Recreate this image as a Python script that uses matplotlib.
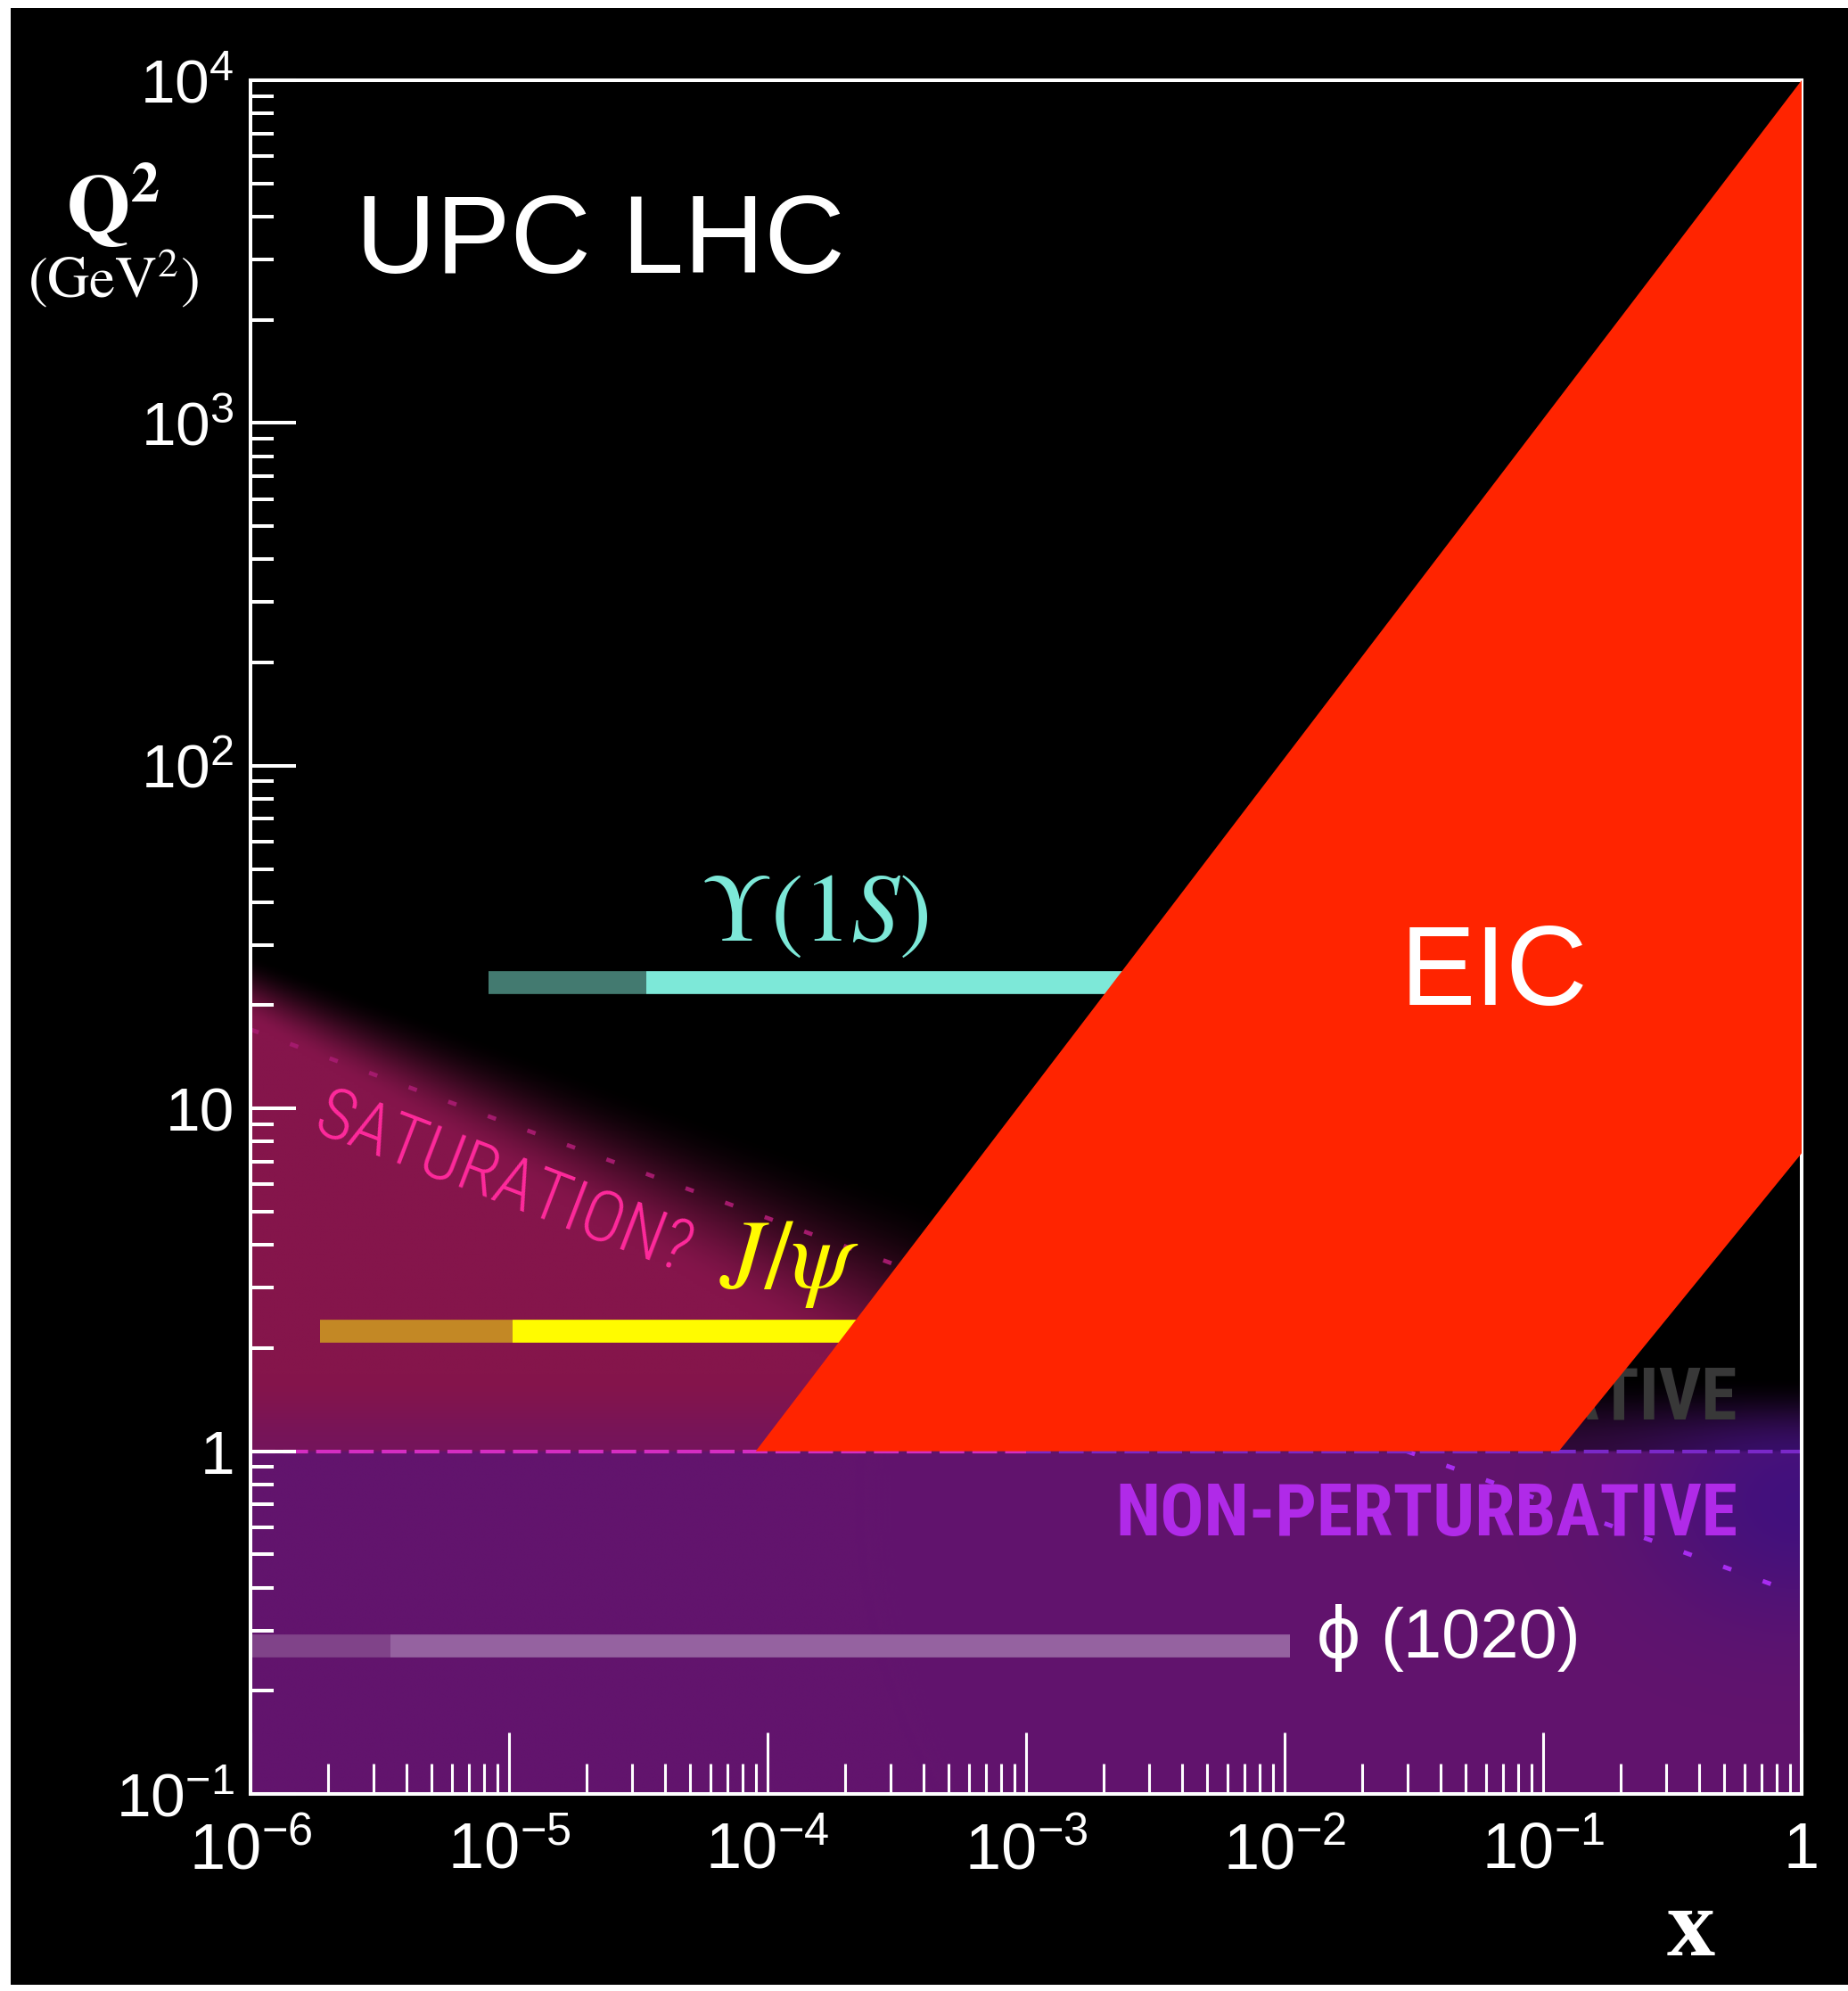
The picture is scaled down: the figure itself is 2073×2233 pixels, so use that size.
import numpy as np
import matplotlib
matplotlib.use("Agg")
import matplotlib.pyplot as plt
from matplotlib import font_manager
from matplotlib.patches import Polygon, Rectangle
from matplotlib.ticker import FixedLocator, NullFormatter, LogLocator

# ---- data ----
x_ticks = [1e-6, 1e-5, 1e-4, 1e-3, 1e-2, 1e-1, 1]
x_labels = [r"$10^{-6}$", r"$10^{-5}$", r"$10^{-4}$", r"$10^{-3}$", r"$10^{-2}$", r"$10^{-1}$", "1"]
y_ticks = [1e-1, 1, 10, 1e2, 1e3, 1e4]
y_labels = [r"$10^{-1}$", "1", "10", r"$10^{2}$", r"$10^{3}$", r"$10^{4}$"]

# EIC coverage (x, Q2 corners)
eic_x = [9.0e-5, 1.0, 1.0, 0.115]
eic_q2 = [1.0, 1.0e4, 7.4, 1.0]

# saturation scale guess (dotted line)
sat_x = [1e-6, 1.0]
sat_q2 = [17.0, 0.38]

# UPC vector meson reach: [start, split, end] in x, and the Q2 scale
ups_x = [8.3e-6, 3.4e-5, 1e-2]
ups_q2 = 23.3
jpsi_x = [1.86e-6, 1.03e-5, 1e-3]
jpsi_q2 = 2.24
phi_x = [1e-6, 3.47e-6, 1.05e-2]
phi_q2 = 0.27

# ---- fonts ----
available = {f.name for f in font_manager.fontManager.ttflist}


def pick(*names):
    for n in names:
        if n in available:
            return n
    return "DejaVu Sans"


sans = pick("Liberation Sans", "Arial")
narrow = pick("Liberation Sans Narrow", "Roboto Condensed", "Liberation Sans")
serif = pick("Liberation Serif", "DejaVu Serif")

plt.rcParams["font.family"] = [sans, "DejaVu Sans"]
plt.rcParams["mathtext.fontset"] = "custom"
plt.rcParams["mathtext.rm"] = sans
plt.rcParams["mathtext.it"] = sans + ":italic"
plt.rcParams["mathtext.bf"] = sans + ":bold"
plt.rcParams["lines.scale_dashes"] = False

W, H = 2073, 2233
fig = plt.figure(figsize=(W / 100, H / 100), dpi=100, facecolor="white")
# black backdrop with thin white margin (top/left/bottom)
fig.patches.append(Rectangle((12 / W, 7 / H), 1, 1 - 16 / H, transform=fig.transFigure,
                             facecolor="black", edgecolor="none", zorder=-5))

ax = fig.add_axes([281 / W, 1 - 2012 / H, (2021 - 281) / W, (2012 - 90) / H])
ax.set_zorder(1)
ax.set_facecolor("black")

# ---- background glow (computed in log space of the axes) ----
n = 700
u, v = np.meshgrid(np.linspace(0, 1, n), np.linspace(0, 1, n))
lx = -6 + 6 * u
ly = -1 + 5 * v


def smooth(t):
    t = np.clip(t, 0, 1)
    return t * t * (3 - 2 * t)


magenta = np.array([133, 21, 75]) / 255
purple = np.array([98, 20, 109]) / 255
blue = np.array([60, 16, 128]) / 255

top = 1.45 - 0.27 * (lx + 6)
width = 0.2 + 0.17 * (lx + 6)
a_m = smooth((top - ly) / width)

a_p = np.where(ly <= 0, 1.0, 0.45 * smooth(1 - ly / 0.22))
glow = np.exp(-((1 - u) / 0.1) ** 2) * np.exp(-((ly + 0.15) / 0.35) ** 2)

img = np.zeros((n, n, 3))
img = img * (1 - a_m[..., None]) + magenta * a_m[..., None]
img = img * (1 - a_p[..., None]) + purple * a_p[..., None]
a_b = (0.85 * glow * np.where(ly <= 0, 1.0, smooth(1 - ly / 0.22)))[..., None]
img = img * (1 - a_b) + blue * a_b

ax.imshow(img, extent=[0, 1, 0, 1], transform=ax.transAxes, origin="lower",
          aspect="auto", interpolation="bilinear", zorder=0)

ax.set_xscale("log")
ax.set_yscale("log")
ax.set_xlim(1e-6, 1)
ax.set_ylim(0.1, 1e4)
ax.set_autoscale_on(False)

# ---- saturation line (dotted), magenta above Q2=1, purple below ----
sx = np.array(sat_x)
sq = np.array(sat_q2)
x_cross = 10 ** np.interp(0, np.log10(sq)[::-1], np.log10(sx)[::-1])
ax.plot([sx[0], x_cross], [sq[0], 1.0], color="#a31a6c", lw=3.4, dashes=(7, 27), zorder=1)
ax.plot([x_cross, sx[1]], [1.0, sq[1]], color="#a82cf0", lw=3.6, dashes=(7, 27), zorder=1)

# ---- Q2 = 1 boundary ----
ax.plot([1e-6, 1e-3], [1, 1], color="#d52dc2", lw=3.0, dashes=(20, 6.5), zorder=1)
ax.plot([1e-3, 1], [1, 1], color="#7a28c8", lw=3.0, dashes=(20, 6.5), zorder=1)

# ---- meson bars ----
bar_lw = 18.5
for xs, q2, dark, light in [(ups_x, ups_q2, "#437a70", "#7de8d8"),
                            (jpsi_x, jpsi_q2, "#c38825", "#fffb00"),
                            (phi_x, phi_q2, "#804389", "#9562a0")]:
    ax.plot(xs[:2], [q2, q2], color=dark, lw=bar_lw, solid_capstyle="butt", zorder=2)
    ax.plot(xs[1:], [q2, q2], color=light, lw=bar_lw, solid_capstyle="butt", zorder=2)

# region labels
pert_x = 10 ** (-6 + (1952 - 281) / 290.5)
ax.text(pert_x, 10 ** (4 - (1592 - 90) / 384.4), "PERTURBATIVE", color="#383838",
        fontsize=59, fontfamily=narrow, fontweight="bold", ha="right", va="baseline", zorder=2)
ax.text(pert_x, 10 ** (4 - (1722 - 90) / 384.4), "NON-PERTURBATIVE", color="#b02ae8",
        fontsize=59, fontfamily=narrow, fontweight="bold", ha="right", va="baseline", zorder=4)

# ---- EIC ----
eic = Polygon(np.column_stack([eic_x, eic_q2]), closed=True, facecolor="#ff2400",
              edgecolor="none", zorder=3, clip_on=False)
ax.add_patch(eic)

# ---- text labels ----
ax.text(1.52e-4, 30.9, r"$\Upsilon(1S)$", color="#7de8d8", fontsize=78, math_fontfamily="stix",
        ha="center", va="baseline", zorder=4)
ax.text(1.22e-4, 3.0, r"$J/\psi$", color="#fffb00", fontsize=80, math_fontfamily="stix",
        ha="center", va="baseline", zorder=4)
ax.text(9.5e-6, 6.0, "SATURATION?", color="#ff2a9c", fontsize=57, fontfamily=narrow,
        fontweight="light", rotation=-21, rotation_mode="anchor", ha="center", va="center",
        zorder=4)
ax.text(0.028, 20, "EIC", color="white", fontsize=91, ha="left", va="baseline", zorder=4)
ax.text(0.0132, 0.25, "\u03d5", color="white", fontsize=56,
        fontfamily=["DejaVu Sans"], ha="left", va="baseline", zorder=4)
ax.text(0.0132 * 10 ** (72 / 290.5), 0.25, "(1020)", color="white", fontsize=56,
        ha="left", va="baseline", zorder=4)
ax.text((399 - 281) / 1740, (2012 - 306) / 1922, "UPC LHC", transform=ax.transAxes,
        color="white", fontsize=90, ha="left", va="baseline", zorder=4)

fig.text(127 / W, 1 - 262 / H, r"$\mathbf{Q^{2}}$", color="white", fontsize=66,
         math_fontfamily="stix", ha="center", va="baseline")
fig.text(127 / W, 1 - 333 / H, r"$(\mathrm{GeV}^{2})$", color="white", fontsize=47,
         math_fontfamily="stix", ha="center", va="baseline")
fig.text(1897 / W, 1 - 2193 / H, "x", color="white", fontsize=78, fontfamily=serif,
         fontweight="bold", ha="center", va="baseline")

# ---- axes styling (ROOT-like) ----
for side in ["left", "bottom", "top", "right"]:
    ax.spines[side].set_color("white")
    ax.spines[side].set_linewidth(2.9)

ax.xaxis.set_major_locator(FixedLocator(x_ticks))
ax.xaxis.set_minor_locator(LogLocator(base=10, subs=np.arange(2, 10)))
ax.set_xticklabels(x_labels)
ax.yaxis.set_major_locator(FixedLocator(y_ticks))
ax.yaxis.set_minor_locator(LogLocator(base=10, subs=np.arange(2, 10)))
ax.set_yticklabels(y_labels)
ax.xaxis.set_minor_formatter(NullFormatter())
ax.yaxis.set_minor_formatter(NullFormatter())

ax.xaxis.set_tick_params(which="major", direction="in", length=50, width=2.2, color="white",
                         labelcolor="white", labelsize=52, pad=22, top=False)
ax.xaxis.set_tick_params(which="minor", direction="in", length=24.5, width=2.2, color="white", top=False)
ax.yaxis.set_tick_params(which="major", direction="in", length=37, width=2.9, color="white",
                         labelcolor="white", labelsize=50, pad=13, right=False)
ax.yaxis.set_tick_params(which="minor", direction="in", length=18.5, width=2.9, color="white", right=False)

fig.savefig("out.png", dpi=100, facecolor=fig.get_facecolor())
